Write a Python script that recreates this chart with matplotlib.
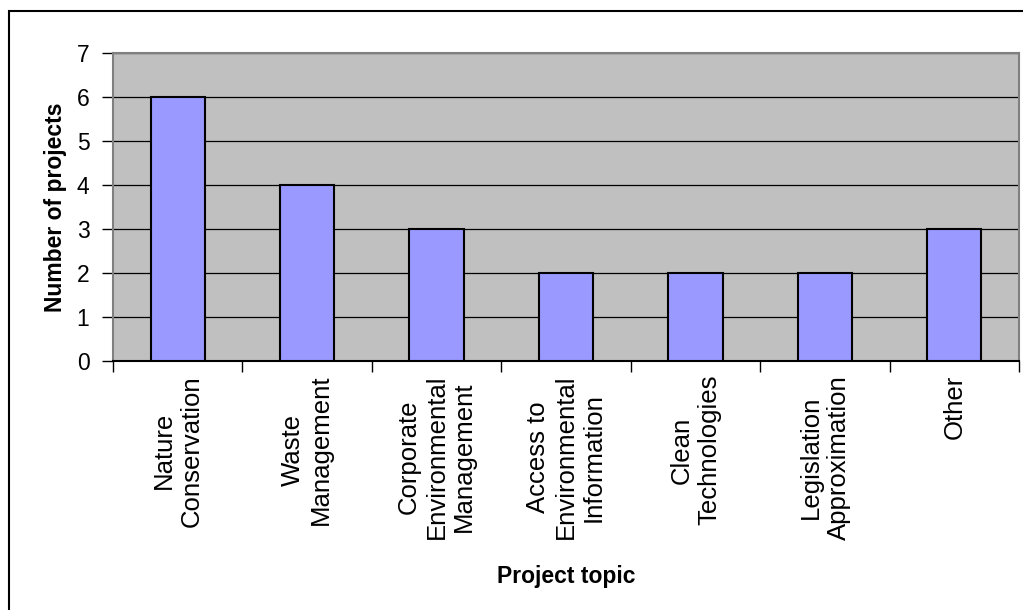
import numpy as np
import matplotlib.pyplot as plt
from matplotlib.patches import Rectangle

plt.rcParams['font.family'] = ['Liberation Sans', 'DejaVu Sans']

# Data
topics = ["Nature\nConservation", "Waste\nManagement", "Corporate\nEnvironmental\nManagement",
          "Access to\nEnvironmental\nInformation", "Clean\nTechnologies",
          "Legislation\nApproximation", "Other"]
projects = [6, 4, 3, 2, 2, 2, 3]
y_ticks = [0, 1, 2, 3, 4, 5, 6, 7]

fig = plt.figure(figsize=(10.23, 6.1), dpi=100)
ax = fig.add_axes([113 / 1023, 1 - 361 / 610, 906 / 1023, 308 / 610])

# outer chart border (Excel style)
fig.patches.append(Rectangle((9 / 1023, -0.1), 1.2, 1 - 11 / 610 + 0.1,
                             transform=fig.transFigure, fill=False,
                             edgecolor="black", linewidth=1.5))

x = np.arange(len(topics))
ax.set_facecolor("#C0C0C0")
ax.set_axisbelow(True)
ax.yaxis.grid(True, color="black", linewidth=0.9)
ax.bar(x, projects, width=0.42, color="#9999FF", edgecolor="black", linewidth=1.5, zorder=3)

ax.set_xlim(-0.5, len(topics) - 0.5)
ax.set_ylim(0, 7)
ax.set_yticks(y_ticks)
ax.tick_params(axis="y", labelsize=16.5, length=8, width=1, direction="out", pad=9)

# category labels between boundary ticks
ax.set_xticks(np.arange(len(topics) + 1) - 0.5)
ax.set_xticklabels([])
ax.tick_params(axis="x", length=8, width=1, direction="out")
ax.set_xticks(x, minor=True)
ax.set_xticklabels(topics, minor=True, rotation=90, fontsize=18.5, ha="center", va="top",
                   multialignment="center")
ax.tick_params(axis="x", which="minor", length=0, pad=10)

for side in ["top", "right", "left"]:
    ax.spines[side].set_color("#808080")
    ax.spines[side].set_linewidth(1.5)
ax.spines["bottom"].set_color("black")
ax.spines["bottom"].set_linewidth(1.5)

ax.set_ylabel("Number of projects", fontsize=16.5, fontweight="bold")
ax.yaxis.set_label_coords(-0.051, 0.5)
ax.set_xlabel("Project topic", fontsize=16.5, fontweight="bold", va="center")
ax.xaxis.set_label_coords(0.5, -(577 - 361) / 308)

fig.savefig("out.png", dpi=100)
plt.close(fig)
